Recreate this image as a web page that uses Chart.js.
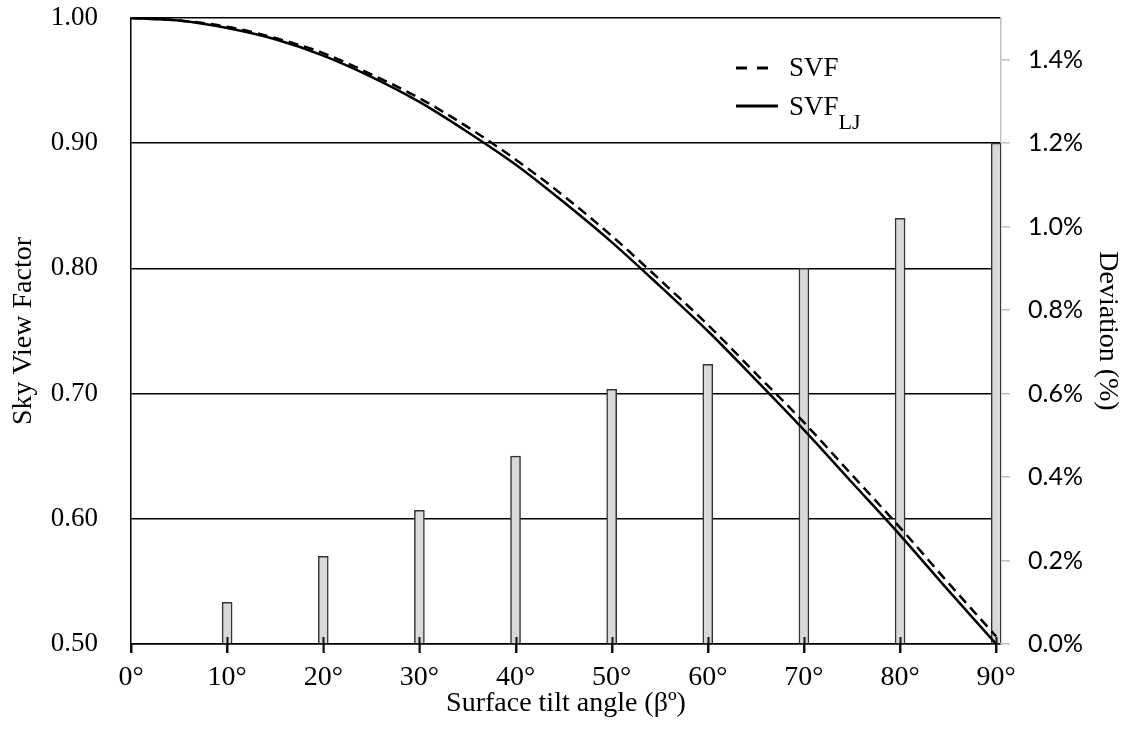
<!DOCTYPE html>
<html>
<head>
<meta charset="utf-8">
<script src="https://cdn.jsdelivr.net/npm/chart.js@4"></script>
<style>
  html, body { margin: 0; padding: 0; background: #fff; }
  #wrap { width: 1134px; height: 733px; }
</style>
</head>
<body>
<div id="wrap"><canvas id="svfChart" width="1134" height="733"></canvas></div>
<script>
// tilt angles (deg) for the two curves
const angles = [0, 5, 10, 15, 20, 25, 30, 35, 40, 45, 50, 55, 60, 65, 70, 75, 80, 85, 90];
const svf   = [1.000, 0.998, 0.993, 0.984, 0.972, 0.955, 0.936, 0.913, 0.887, 0.858, 0.826, 0.791, 0.755, 0.716, 0.677, 0.635, 0.593, 0.549, 0.506];
const svfLJ = [1.000, 0.998, 0.992, 0.983, 0.970, 0.953, 0.933, 0.909, 0.883, 0.853, 0.821, 0.786, 0.750, 0.711, 0.671, 0.629, 0.587, 0.543, 0.500];

// deviation bars (%)
const barAngles = [10, 20, 30, 40, 50, 60, 70, 80, 90];
const deviation = [0.10, 0.21, 0.32, 0.45, 0.61, 0.67, 0.90, 1.02, 1.20];

// tick labels
const xTicks = [0, 10, 20, 30, 40, 50, 60, 70, 80, 90];
const leftTicks = [0.5, 0.6, 0.7, 0.8, 0.9, 1.0];
const rightTicks = [0, 0.2, 0.4, 0.6, 0.8, 1.0, 1.2, 1.4];

const serif = "'Liberation Serif', 'Times New Roman', serif";

const toPts = (xs, ys) => xs.map((x, i) => ({ x: x, y: ys[i] }));

// legend with subscript + x ticks crossing the axis, drawn last
const overlayPlugin = {
    id: "svfOverlay",
    afterDraw(chart) {
        const ctx = chart.ctx;
        const xs = chart.scales.x;
        const bottom = chart.chartArea.bottom;
        ctx.save();
        ctx.strokeStyle = "#111";
        ctx.lineWidth = 2;
        ctx.setLineDash([]);
        xTicks.forEach(v => {
            let px = Math.round(xs.getPixelForValue(v)) + 0.5;
            ctx.beginPath();
            ctx.moveTo(px, v === 0 ? bottom : bottom - 7);
            ctx.lineTo(px, bottom + 9);
            ctx.stroke();
        });

        ctx.strokeStyle = "#000";
        ctx.lineWidth = 3;
        ctx.setLineDash([11, 10]);
        ctx.beginPath();
        ctx.moveTo(736, 68);
        ctx.lineTo(769, 68);
        ctx.stroke();
        ctx.setLineDash([]);
        ctx.beginPath();
        ctx.moveTo(736, 106);
        ctx.lineTo(778, 106);
        ctx.stroke();

        ctx.fillStyle = "#000";
        ctx.textBaseline = "middle";
        ctx.textAlign = "left";
        ctx.font = "27px " + serif;
        ctx.fillText("SVF", 789, 69);
        ctx.fillText("SVF", 789, 108);
        let w = ctx.measureText("SVF").width;
        ctx.font = "22px " + serif;
        ctx.fillText("LJ", 789 + w, 123);
        ctx.restore();
    }
};

const setTicks = (vals) => (scale) => { scale.ticks = vals.map(v => ({ value: v })); };

let ctx = document.getElementById("svfChart").getContext("2d");
new Chart(ctx, {
    data: {
        datasets: [
            {
                type: "line",
                label: "SVF",
                data: toPts(angles, svf),
                yAxisID: "y",
                borderColor: "#000",
                borderWidth: 2.5,
                borderDash: [10, 6],
                pointRadius: 0,
                cubicInterpolationMode: "monotone",
                order: 1
            },
            {
                type: "line",
                label: "SVF LJ",
                data: toPts(angles, svfLJ),
                yAxisID: "y",
                borderColor: "#000",
                borderWidth: 2.5,
                pointRadius: 0,
                cubicInterpolationMode: "monotone",
                order: 2
            },
            {
                type: "bar",
                label: "Deviation",
                data: toPts(barAngles, deviation),
                yAxisID: "y2",
                backgroundColor: "#d9d9d9",
                borderColor: "#333",
                borderWidth: 1.5,
                barThickness: 10,
                grouped: false,
                order: 3
            }
        ]
    },
    options: {
        responsive: false,
        animation: false,
        layout: { padding: { top: 18, left: 0, right: 0, bottom: 0 } },
        plugins: { legend: { display: false }, tooltip: { enabled: false } },
        scales: {
            x: {
                type: "linear",
                offset: false,
                min: 0,
                max: 90.5,
                afterBuildTicks: setTicks(xTicks),
                afterFit: (s) => { s.height = 89; s.paddingLeft = 0; s.paddingRight = 0; },
                border: { color: "#000", width: 1.5 },
                grid: { offset: false, display: true, drawOnChartArea: false, drawTicks: true, color: "#111", lineWidth: 1.5, tickLength: 9 },
                ticks: {
                    color: "#000",
                    padding: 8,
                    maxRotation: 0,
                    font: { family: serif, size: 28 },
                    callback: (v) => v + "°"
                },
                title: {
                    display: true,
                    text: "Surface tilt angle (βº)",
                    color: "#000",
                    font: { family: serif, size: 28 },
                    padding: { top: 0, bottom: 13 }
                }
            },
            y: {
                position: "left",
                min: 0.5,
                max: 1.0,
                afterBuildTicks: setTicks(leftTicks),
                afterFit: (s) => { s.width = 131; s.paddingTop = 0; s.paddingBottom = 0; },
                border: { color: "#000", width: 1.5 },
                grid: { color: "#000", lineWidth: 1.5, drawTicks: false },
                ticks: {
                    color: "#000",
                    padding: 33,
                    font: { family: serif, size: 27 },
                    callback: (v) => v.toFixed(2)
                },
                title: {
                    display: true,
                    text: "Sky View Factor",
                    color: "#000",
                    font: { family: serif, size: 28 },
                    padding: { top: 7, bottom: 0 }
                }
            },
            y2: {
                position: "right",
                min: 0,
                max: 1.5,
                afterBuildTicks: setTicks(rightTicks),
                afterFit: (s) => { s.width = 133; s.paddingTop = 0; s.paddingBottom = 0; },
                border: { color: "#bfbfbf", width: 1.5 },
                grid: { drawOnChartArea: false, color: "#bfbfbf", lineWidth: 1.5, tickLength: 9 },
                ticks: {
                    color: "#000",
                    padding: 18,
                    font: { family: "Lato, 'Liberation Sans', sans-serif", size: 25 },
                    callback: (v) => v.toFixed(1) + "%"
                },
                title: {
                    display: true,
                    text: "Deviation (%)",
                    color: "#000",
                    font: { family: serif, size: 28 },
                    padding: { top: 10, bottom: 0 }
                }
            }
        }
    },
    plugins: [overlayPlugin]
});
</script>
</body>
</html>
